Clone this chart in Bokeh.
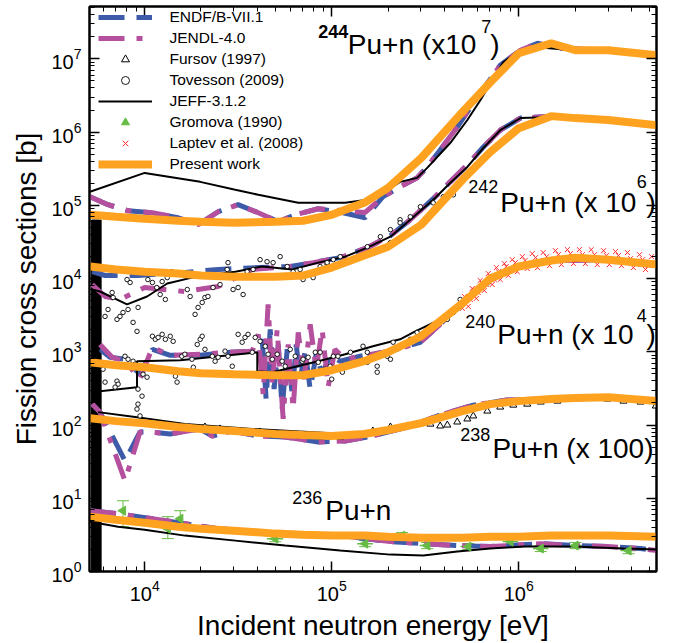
import math
from bokeh.plotting import figure
from bokeh.models import (Range1d, LogAxis, FixedTicker, LogTickFormatter, Label, Legend,
                          LegendItem, Whisker, ColumnDataSource, TeeHead, CustomJSTickFormatter)
from bokeh.embed import file_html
from bokeh.resources import INLINE

# ---------------- data (displayed, already scaled values) ----------------
present_e = [5.11e3, 7.03e3, 1.0e4, 1.51e4, 2.0e4, 3.01e4, 4.99e4, 7.03e4, 1.0e5, 1.49e5, 2.0e5,
             3.01e5, 4.99e5, 7.05e5, 1.0e6, 1.49e6, 2.01e6, 3.01e6, 5.5e6]
pu244_present = [7.43e4, 6.98e4, 6.55e4, 6.15e4, 5.97e4, 5.78e4, 5.97e4, 6.15e4, 7.43e4, 1.08e5, 1.73e5,
                 4.43e5, 1.87e6, 4.79e6, 1.19e7, 1.63e7, 1.31e7, 1.31e7, 1.12e7]
pu242_present = [1.46e4, 1.33e4, 1.24e4, 1.17e4, 1.10e4, 1.06e4, 1.06e4, 1.10e4, 1.41e4, 2.06e4, 2.72e4,
                 5.43e4, 2.22e5, 5.34e5, 1.13e6, 1.65e6, 1.55e6, 1.46e6, 1.24e6]
pu240_present = [719, 655, 615, 543, 510, 494, 479, 479, 560, 743, 985,
                 1.63e3, 4.57e3, 1.0e4, 1.46e4, 1.76e4, 1.93e4, 1.81e4, 1.55e4]
pu238_present = [124, 113, 106, 94, 88, 83, 75.5, 73.1, 70.8, 75.5, 85.5,
                 106, 155, 193, 212, 226, 233, 240, 212]
pu236_present = [5.60, 5.09, 4.64, 4.09, 3.84, 3.61, 3.29, 3.18, 3.09, 3.09, 2.99,
                 2.90, 2.90, 2.99, 2.99, 3.09, 3.09, 3.09, 2.99]

# JEFF-3.1.2
jeff244_e = [5.1e3, 1.0e4, 1.98e4, 3.05e4, 4.05e4, 6.62e4, 1.18e5, 1.55e5, 1.88e5, 2.32e5, 2.86e5,
             3.24e5, 4.30e5, 5.31e5, 6.23e5, 8.26e5, 1.02e6, 1.30e6, 1.96e6, 2.98e6, 5.5e6]
jeff244_s = [1.53e5, 2.77e5, 2.09e5, 1.63e5, 1.39e5, 1.08e5, 1.08e5, 1.19e5, 1.48e5, 2.09e5, 2.37e5,
             3.24e5, 7.08e5, 1.46e6, 2.72e6, 8.96e6, 1.31e7, 1.43e7, 1.31e7, 1.26e7, 1.05e7]
jeff242_e = [5.23e3, 5.77e3, 8.05e3, 1.03e4, 1.32e4, 1.79e4, 3.05e4, 4.25e4, 6.15e4, 8.47e4, 1.18e5,
             1.55e5, 2.06e5, 2.63e5, 3.49e5, 4.30e5, 5.31e5, 6.47e5, 7.96e5, 1.02e6, 1.53e6, 2.98e6, 5.5e6]
jeff242_s = [7.08e3, 6.65e3, 4.43e3, 5.69e3, 8.55e3, 1.03e4, 1.24e4, 1.46e4, 1.33e4, 1.65e4, 1.99e4,
             2.64e4, 3.73e4, 6.35e4, 1.19e5, 2.02e5, 3.34e5, 6.06e5, 1.06e6, 1.55e6, 1.60e6, 1.46e6, 1.24e6]
jeff240_e = [5.77e3, 9.1e3, 9.1e3, 1.55e4, 4.0e4, 4.0e4, 4.81e4, 8.47e4, 1.18e5, 1.66e5, 2.32e5,
             2.73e5, 3.80e5, 4.86e5, 5.85e5, 7.05e5, 1.0e6, 1.49e6, 3.01e6, 5.5e6]
jeff240_s = [290, 329, 743, 766, 985, 543, 526, 743, 925, 1.19e3, 1.48e3,
             1.84e3, 2.77e3, 4.43e3, 6.65e3, 9.69e3, 1.41e4, 1.76e4, 1.81e4, 1.55e4]
jeff238_e = [5.64e3, 8.89e3, 1.64e4, 3.76e4, 1.18e5, 1.66e5, 2.54e5, 3.80e5, 5.71e5, 8.65e5, 1.31e6,
             2.01e6, 3.01e6, 5.5e6]
jeff238_s = [150, 129, 103, 88.3, 75.5, 77.8, 97.0, 133, 182, 212, 226, 226, 233, 199]
jeff236_e = [5.11e3, 7.21e3, 1.0e4, 1.64e4, 3.05e4, 5.64e4, 1.11e5, 2.06e5, 3.09e5, 4.69e5, 7.05e5,
             1.06e6, 1.96e6, 3.63e6, 5.5e6]
jeff236_s = [4.79, 4.09, 3.72, 3.09, 2.64, 2.26, 1.93, 1.70, 1.65, 1.87, 2.06, 2.19, 2.19, 2.06, 1.99]
# resonance band (JEFF, unresolved at this scale)
res_band_e = [5.2e3, 5.85e3]
res_band_s = [1.0, 6.3e4]

# ENDF/B-VII.1
endf244_e = [5.1e3, 6.37e3, 8.15e3, 1.10e4, 1.51e4, 1.93e4, 2.47e4, 3.16e4, 4.05e4, 5.18e4, 6.38e4,
             8.47e4, 1.15e5, 1.51e5, 1.88e5, 2.32e5, 2.86e5, 3.24e5, 3.80e5, 4.69e5, 5.71e5, 7.96e5,
             1.02e6, 1.26e6, 1.67e6, 2.73e6, 5.5e6]
endf244_s = [1.31e5, 1.02e5, 8.42e4, 7.91e4, 6.76e4, 5.43e4, 8.17e4, 1.02e5, 7.91e4, 5.97e4, 7.43e4,
             8.96e4, 7.91e4, 6.76e4, 1.31e5, 1.79e5, 2.37e5, 3.34e5, 5.69e5, 1.17e6, 2.48e6, 8.16e6,
             1.31e7, 1.63e7, 1.39e7, 1.31e7, 1.12e7]
endf242_e = [5.24e3, 6.14e3, 9.21e3, 1.64e4, 2.47e4, 4.05e4, 6.0e4, 7.96e4, 1.11e5, 1.55e5, 2.06e5,
             2.63e5, 3.49e5, 4.30e5, 5.31e5, 6.47e5, 7.96e5, 1.02e6, 1.53e6, 2.98e6, 5.5e6]
endf242_s = [1.24e4, 1.10e4, 1.10e4, 1.21e4, 1.33e4, 1.41e4, 1.46e4, 1.65e4, 1.93e4, 2.64e4, 3.85e4,
             6.35e4, 1.23e5, 2.09e5, 3.56e5, 6.25e5, 1.06e6, 1.55e6, 1.65e6, 1.46e6, 1.24e6]
endf240_e = [5.77e3, 6.53e3, 7.85e3, 9.44e3, 1.10e4, 1.37e4, 1.98e4, 2.86e4, 3.90e4, 4.25e4, 4.46e4,
             4.69e4, 4.92e4, 5.18e4, 5.43e4, 5.78e4, 6.15e4, 6.46e4, 6.78e4, 7.21e4, 7.67e4, 8.26e4,
             8.89e4, 9.81e4, 1.11e5, 1.42e5, 2.06e5, 2.98e5, 3.80e5, 4.86e5, 6.07e5, 7.96e5, 1.0e6,
             1.49e6, 3.01e6, 5.5e6]
endf240_s = [1.08e3, 841, 791, 494, 1.08e3, 896, 896, 985, 1.02e3, 1.48e3, 226,
             2.02e3, 309, 1.26e3, 165, 1.08e3, 264, 1.26e3, 423, 1.02e3, 309, 925,
             494, 896, 743, 869, 1.02e3, 1.35e3, 2.37e3, 4.43e3, 7.08e3, 1.13e4, 1.46e4,
             1.76e4, 1.81e4, 1.55e4]
endf238_e = [5.24e3, 5.77e3, 7.85e3, 9.44e3, 1.07e4, 1.37e4, 1.98e4, 2.30e4, 2.94e4, 4.05e4, 5.64e4,
             8.47e4, 1.18e5, 1.66e5, 2.54e5, 3.80e5, 5.71e5, 8.65e5, 1.31e6, 2.01e6, 3.01e6, 5.5e6]
endf238_s = [193, 150, 32.4, 80.3, 80.3, 75.5, 88.3, 70.8, 82.8, 70.8, 68.7,
             58.7, 60.6, 70.8, 94.0, 137, 187, 219, 226, 233, 240, 212]
endf236_e = [5.11e3, 7.21e3, 1.10e4, 2.47e4, 5.64e4, 1.11e5, 2.06e5, 3.09e5, 4.69e5, 7.05e5, 1.31e6,
             1.96e6, 2.98e6, 4.48e6, 5.5e6]
endf236_s = [6.76, 6.15, 5.26, 3.84, 3.29, 3.09, 2.56, 2.40, 2.26, 2.19, 2.40, 2.26, 2.19, 2.06, 1.93]

# JENDL-4.0
jendl244_e = endf244_e
jendl244_s = [1.31e5, 1.02e5, 8.42e4, 7.91e4, 6.76e4, 5.43e4, 8.17e4, 1.02e5, 7.91e4, 5.97e4, 7.43e4,
              8.96e4, 8.4e4, 8.0e4, 1.31e5, 1.79e5, 2.37e5, 3.34e5, 5.69e5, 1.17e6, 2.48e6, 8.16e6,
              1.31e7, 1.63e7, 1.39e7, 1.31e7, 1.12e7]
jendl242_e = [5.24e3, 6.14e3, 7.38e3, 1.0e4, 1.64e4, 2.47e4, 3.76e4, 6.0e4, 7.96e4, 1.11e5, 1.55e5,
              2.06e5, 2.63e5, 3.49e5, 4.30e5, 5.31e5, 6.47e5, 7.96e5, 1.02e6, 1.53e6, 2.98e6, 5.5e6]
jendl242_s = [8.28e3, 5.69e3, 5.18e3, 7.54e3, 6.65e3, 7.78e3, 1.33e4, 1.46e4, 1.65e4, 1.93e4, 2.64e4,
              3.85e4, 6.35e4, 1.23e5, 2.09e5, 3.56e5, 6.25e5, 1.06e6, 1.55e6, 1.65e6, 1.46e6, 1.24e6]
jendl240_e = [5.77e3, 6.70e3, 7.85e3, 9.44e3, 1.10e4, 1.37e4, 1.98e4, 2.86e4, 3.76e4, 4.05e4, 4.30e4,
              4.57e4, 4.81e4, 5.11e4, 5.50e4, 5.85e4, 6.22e4, 6.62e4, 7.13e4, 7.67e4, 8.26e4, 8.89e4,
              9.57e4, 1.04e5, 1.18e5, 1.42e5, 2.06e5, 2.98e5, 3.80e5, 4.86e5, 6.07e5, 7.96e5, 1.0e6,
              1.49e6, 3.01e6, 5.5e6]
jendl240_s = [1.26e3, 841, 743, 423, 1.15e3, 896, 925, 985, 1.02e3, 1.73e3, 264,
              4.43e3, 361, 2.02e3, 121, 1.26e3, 165, 1.84e3, 423, 2.37e3, 578, 2.02e3,
              329, 1.08e3, 791, 869, 1.02e3, 1.35e3, 2.37e3, 4.43e3, 7.08e3, 1.13e4, 1.46e4,
              1.76e4, 1.81e4, 1.55e4]
jendl238_e = endf238_e
jendl238_s = [193, 150, 17.3, 80.3, 80.3, 75.5, 88.3, 70.8, 82.8, 70.8, 68.7,
              58.7, 60.6, 70.8, 94.0, 137, 187, 219, 226, 233, 240, 212]
jendl236_e = endf236_e
jendl236_s = endf236_s

# Fursov (1997), 238Pu x 100
fursov_e = [2.10e4, 2.53e4, 3.24e4, 4.14e4, 5.30e4, 6.78e4, 8.67e4, 1.11e5, 1.34e5, 1.66e5, 2.06e5,
            2.54e5, 2.86e5, 3.37e5, 3.80e5, 4.15e5, 4.69e5, 5.31e5, 5.71e5, 6.79e5, 7.96e5, 9.35e5,
            1.11e6, 1.31e6, 1.61e6, 1.96e6, 2.42e6, 2.98e6, 3.63e6, 4.48e6, 5.4e6]
fursov_s = [94.0, 88.3, 82.8, 80.3, 73.1, 70.8, 68.7, 68.7, 73.1, 82.8, 94.0,
            97.0, 103, 103, 97.0, 100, 110, 121, 133, 155, 176, 187,
            193, 206, 212, 226, 233, 226, 212, 206, 182]

# Tovesson (2009), 242Pu x 1e6 and 240Pu x 1e4
tov242_e = [6.14e3, 6.37e3, 6.70e3, 6.78e3, 7.11e3, 7.38e3, 7.66e3, 8.15e3, 8.67e3, 9.10e3, 9.22e3,
            8.36e3, 8.05e3, 1.04e4, 1.10e4, 1.16e4, 1.24e4, 1.32e4, 1.40e4, 1.21e4, 1.29e4, 1.69e4,
            1.75e4, 1.86e4, 1.93e4, 2.03e4, 2.10e4, 2.18e4, 2.32e4, 2.53e4, 2.76e4, 2.79e4, 2.97e4,
            3.16e4, 3.36e4, 3.53e4, 3.80e4, 4.14e4, 4.51e4, 4.86e4, 5.30e4, 5.78e4, 6.22e4, 6.78e4,
            7.96e4, 8.67e4, 9.45e4, 1.02e5, 1.42e5, 1.55e5, 1.75e5, 1.82e5, 2.06e5, 2.06e5, 2.32e5,
            2.32e5, 2.63e5, 2.63e5, 2.98e5, 3.49e5, 3.95e5, 4.47e5, 7.03e4, 9.45e4, 1.11e5, 1.26e5]
tov242_s = [3.04e3, 3.78e3, 6.45e3, 5.51e3, 2.77e3, 3.04e3, 3.44e3, 3.78e3, 2.52e3, 1.90e3, 4.03e3,
            8.83e3, 9.69e3, 9.69e3, 8.83e3, 7.54e3, 9.10e3, 1.03e4, 1.24e4, 6.05e3, 5.18e3, 7.08e3,
            5.69e3, 3.24e3, 4.03e3, 4.71e3, 5.51e3, 5.69e3, 7.54e3, 8.28e3, 1.33e4, 1.65e4, 7.08e3,
            7.54e3, 6.05e3, 1.24e4, 1.33e4, 1.81e4, 1.70e4, 1.65e4, 1.99e4, 1.46e4, 1.24e4, 1.33e4,
            1.03e4, 1.46e4, 1.55e4, 1.81e4, 1.99e4, 2.72e4, 2.48e4, 3.73e4, 4.65e4, 3.09e4, 6.35e4,
            5.78e4, 6.98e4, 4.23e4, 9.55e4, 1.08e5, 1.31e5, 1.39e5, 9.69e3, 1.65e4, 1.99e4, 1.70e4]
tov240_e = [5.99e3, 6.14e3, 7.11e3, 7.21e3, 6.95e3, 7.85e3, 8.15e3, 8.67e3, 8.89e3, 9.21e3,
            9.68e3, 9.21e3, 9.10e3, 9.44e3, 9.80e3, 1.03e4, 1.10e4, 1.14e4, 1.18e4, 1.24e4,
            1.29e4, 1.37e4, 1.42e4, 1.46e4, 1.49e4, 1.58e4, 1.64e4, 1.79e4, 1.82e4, 1.91e4,
            1.98e4, 2.03e4, 2.10e4, 2.30e4, 2.38e4, 2.47e4, 2.69e4, 2.79e4, 2.94e4, 3.16e4,
            3.32e4, 3.44e4, 3.57e4, 3.76e4, 3.90e4, 4.14e4, 4.41e4, 4.57e4, 4.81e4, 5.11e4,
            5.43e4, 5.64e4, 6.00e4, 6.38e4, 6.95e4, 7.48e4, 8.17e4, 8.47e4, 9.23e4, 9.81e4,
            1.08e5, 1.00e5, 1.14e5, 7.03e4, 8.67e4, 1.02e5, 1.26e5, 1.47e5, 1.55e5, 1.75e5,
            1.98e5, 2.06e5, 2.13e5, 2.32e5, 2.63e5, 2.86e5, 3.24e5, 3.49e5, 3.80e5, 4.15e5,
            4.47e5, 4.69e5, 4.86e5, 1.75e5, 1.55e5]
tov240_s = [578, 385, 397, 361, 329, 869, 791, 743, 676, 309,
            248, 193, 165, 133, 494, 450, 1.63e3, 1.48e3, 1.57e3, 1.73e3,
            1.48e3, 1.63e3, 1.39e3, 464, 385, 869, 925, 791, 615, 1.26e3,
            1.48e3, 1.63e3, 1.08e3, 869, 743, 841, 1.02e3, 869, 635, 1.73e3,
            1.35e3, 1.57e3, 1.73e3, 985, 1.57e3, 1.39e3, 1.19e3, 925, 791, 925,
            743, 635, 1.08e3, 869, 743, 841, 985, 719, 578, 635,
            869, 423, 526, 791, 985, 869, 985, 1.19e3, 985, 635,
            869, 791, 1.35e3, 1.19e3, 1.48e3, 1.84e3, 2.02e3, 2.22e3, 2.52e3, 2.77e3,
            3.44e3, 4.16e3, 5.18e3, 526, 719]

# Gromova (1990), 236Pu
grom_e = [7.66e3, 1.33e4, 1.55e4, 4.99e4, 1.51e5, 2.38e5, 3.24e5, 5.37e5, 9.02e5, 1.31e6, 2.01e6, 3.86e6]
grom_s = [6.76, 3.84, 5.26, 2.81, 2.40, 3.09, 2.26, 2.19, 2.56, 2.06, 2.26, 1.93]
grom_s_lo = [4.09, 2.81, 3.84, 2.55, 2.18, 2.80, 2.05, 1.99, 2.33, 1.87, 2.05, 1.75]
grom_s_hi = [9.25, 5.60, 6.76, 3.10, 2.64, 3.40, 2.49, 2.41, 2.82, 2.27, 2.49, 2.12]
grom_e_lo = [7.66e3, 1.33e4, 1.55e4, 4.5e4, 1.37e5, 2.16e5, 2.95e5, 4.88e5, 8.2e5, 1.19e6, 1.83e6, 3.5e6]
grom_e_hi = [7.66e3, 1.33e4, 1.55e4, 5.5e4, 1.66e5, 2.62e5, 3.56e5, 5.9e5, 9.9e5, 1.44e6, 2.21e6, 4.25e6]

# Laptev et al. (2008), 240Pu x 1e4
lap_e = [4.99e5, 5.25e5, 5.51e5, 5.79e5, 6.07e5, 6.38e5, 6.70e5, 7.05e5, 7.40e5, 7.78e5, 8.17e5, 8.58e5,
         9.02e5, 9.59e5, 1.02e6, 1.08e6, 1.15e6, 1.23e6, 1.31e6, 1.41e6, 1.51e6, 1.63e6, 1.75e6, 1.89e6,
         2.03e6, 2.19e6, 2.36e6, 2.54e6, 2.73e6, 2.94e6, 3.17e6, 3.41e6, 3.67e6, 3.96e6, 4.26e6, 4.59e6,
         4.94e6, 5.32e6,
         5.12e5, 5.37e5, 5.64e5, 5.93e5, 6.22e5, 6.54e5, 6.87e5, 7.21e5, 7.59e5, 7.96e5, 8.37e5, 8.79e5,
         9.23e5, 9.82e5, 1.045e6, 1.11e6, 1.18e6, 1.26e6, 1.35e6, 1.46e6, 1.57e6, 1.69e6, 1.82e6, 1.96e6,
         2.11e6, 2.27e6, 2.44e6, 2.63e6, 2.84e6, 3.05e6, 3.29e6, 3.54e6, 3.81e6, 4.10e6, 4.42e6, 4.76e6,
         5.13e6]
lap_s = [3.91e3, 5.35e3, 5.18e3, 6.87e3, 6.45e3, 8.55e3, 8.28e3, 1.06e4, 9.69e3, 1.24e4, 1.13e4, 1.46e4,
         1.33e4, 1.65e4, 1.41e4, 1.76e4, 1.55e4, 1.93e4, 1.65e4, 1.99e4, 1.70e4, 2.12e4, 1.81e4, 2.19e4,
         1.81e4, 2.12e4, 1.81e4, 2.12e4, 1.76e4, 2.06e4, 1.70e4, 2.06e4, 1.65e4, 1.87e4, 1.55e4, 1.81e4,
         1.50e4, 1.65e4,
         5.69e3, 4.16e3, 7.31e3, 5.35e3, 9.40e3, 6.87e3, 1.17e4, 8.28e3, 1.41e4, 9.69e3, 1.60e4, 1.10e4,
         1.81e4, 1.24e4, 1.99e4, 1.37e4, 2.19e4, 1.41e4, 2.26e4, 1.50e4, 2.40e4, 1.55e4, 2.48e4, 1.60e4,
         2.48e4, 1.60e4, 2.48e4, 1.55e4, 2.40e4, 1.55e4, 2.33e4, 1.50e4, 2.26e4, 1.41e4, 2.12e4, 1.33e4,
         1.99e4]

x_major = [1e4, 1e5, 1e6]
y_major = [1, 10, 100, 1e3, 1e4, 1e5, 1e6, 1e7]

# ---------------- styles ----------------
BLUE = "#3d5ba8"
MAG = "#b4509e"
ORANGE = "#ffa21f"
GREEN = "#66bb44"
RED = "#ff2a2a"
FONT = "Liberation Sans"

p = figure(width=676, height=643, x_axis_type="log", y_axis_type="log",
           x_range=Range1d(5.07e3, 5.45e6), y_range=Range1d(1.0, 5.18e7),
           output_backend="svg", toolbar_location=None,
           min_border_left=89, min_border_right=20, min_border_top=6, min_border_bottom=70)
p.grid.visible = False
p.outline_line_color = "black"
p.outline_line_width = 2
p.background_fill_color = "white"
p.border_fill_color = "white"

x_minor = [k * 10 ** d for d in range(3, 7) for k in range(2, 10)]
y_minor = [k * 10 ** d for d in range(0, 8) for k in range(2, 10)]


def style_axis(ax):
    ax.axis_line_color = "black"
    ax.axis_line_width = 2
    ax.major_tick_in = 10
    ax.major_tick_out = 0
    ax.minor_tick_in = 5
    ax.minor_tick_out = 0
    ax.major_tick_line_width = 1.5
    ax.minor_tick_line_width = 1
    ax.major_tick_line_color = "black"
    ax.minor_tick_line_color = "black"
    ax.major_label_text_font = FONT
    ax.major_label_text_color = "black"
    ax.major_label_text_font_size = "20px"
    ax.major_label_standoff = 8


xa = p.xaxis[0]
ya = p.yaxis[0]
xa.ticker = FixedTicker(ticks=x_major, minor_ticks=x_minor)
ya.ticker = FixedTicker(ticks=y_major, minor_ticks=y_minor)
xa.formatter = LogTickFormatter()
ya.formatter = LogTickFormatter()
style_axis(xa)
style_axis(ya)
xa.axis_label = "Incident neutron energy [eV]"
ya.axis_label = "Fission cross sections [b]"
for ax in (xa, ya):
    ax.axis_label_text_font = FONT
    ax.axis_label_text_font_size = "28px"
    ax.axis_label_text_font_style = "normal"
    ax.axis_label_text_color = "black"
    ax.axis_label_standoff = 6

blank = CustomJSTickFormatter(code="return '';")
top = LogAxis(ticker=FixedTicker(ticks=x_major, minor_ticks=x_minor), formatter=blank)
style_axis(top)
top.major_label_standoff = 0
p.add_layout(top, "above")
right = LogAxis(ticker=FixedTicker(ticks=y_major, minor_ticks=y_minor), formatter=blank)
style_axis(right)
right.major_label_standoff = 0
p.add_layout(right, "right")

# resonance band
p.quad(left=[res_band_e[0]], right=[res_band_e[1]], bottom=[res_band_s[0]], top=[res_band_s[1]],
       fill_color="black", line_color="black")

endf_r = []
for e, s in [(endf244_e, endf244_s), (endf242_e, endf242_s), (endf240_e, endf240_s),
             (endf238_e, endf238_s), (endf236_e, endf236_s)]:
    endf_r.append(p.line(e, s, line_color=BLUE, line_width=5, line_dash="26 12"))
jendl_r = []
for e, s in [(jendl244_e, jendl244_s), (jendl242_e, jendl242_s), (jendl240_e, jendl240_s),
             (jendl238_e, jendl238_s), (jendl236_e, jendl236_s)]:
    jendl_r.append(p.line(e, s, line_color=MAG, line_width=5, line_dash="26 12 6 12"))
jeff_r = []
for e, s in [(jeff244_e, jeff244_s), (jeff242_e, jeff242_s), (jeff240_e, jeff240_s),
             (jeff238_e, jeff238_s), (jeff236_e, jeff236_s)]:
    jeff_r.append(p.line(e, s, line_color="black", line_width=2))

lap_r = p.scatter(lap_e, lap_s, marker="x", size=7, line_color=RED, line_width=1)
tov_r = p.scatter(tov242_e + tov240_e, tov242_s + tov240_s, marker="circle", size=4.5,
                  line_color="black", fill_color="white", line_width=0.9)
fur_r = p.scatter(fursov_e, fursov_s, marker="triangle", size=7, line_color="black",
                  fill_color="white", line_width=1)

gsrc = ColumnDataSource(dict(e=grom_e, s=grom_s, lo=grom_s_lo, hi=grom_s_hi, elo=grom_e_lo, ehi=grom_e_hi))
p.add_layout(Whisker(source=gsrc, base="e", lower="lo", upper="hi", line_color=GREEN, line_width=1,
                     upper_head=TeeHead(size=12, line_color=GREEN, line_width=1),
                     lower_head=TeeHead(size=12, line_color=GREEN, line_width=1)))
p.add_layout(Whisker(source=gsrc, base="s", lower="elo", upper="ehi", dimension="width",
                     line_color=GREEN, line_width=1.5,
                     upper_head=None, lower_head=None))
grom_r = p.scatter("e", "s", source=gsrc, marker="triangle", angle=math.pi / 2, size=9,
                   line_color=GREEN, fill_color=GREEN)

pres_r = []
for s in [pu244_present, pu242_present, pu240_present, pu238_present, pu236_present]:
    pres_r.append(p.line(present_e, s, line_color=ORANGE, line_width=8))

legend = Legend(items=[
    LegendItem(label="ENDF/B-VII.1", renderers=[endf_r[0]]),
    LegendItem(label="JENDL-4.0", renderers=[jendl_r[0]]),
    LegendItem(label="Fursov (1997)", renderers=[fur_r]),
    LegendItem(label="Tovesson (2009)", renderers=[tov_r]),
    LegendItem(label="JEFF-3.1.2", renderers=[jeff_r[0]]),
    LegendItem(label="Gromova (1990)", renderers=[grom_r]),
    LegendItem(label="Laptev et al. (2008)", renderers=[lap_r]),
    LegendItem(label="Present work", renderers=[pres_r[0]]),
], location=(8.5, 397))
legend.padding = 0
legend.spacing = 1
legend.margin = 0
legend.glyph_height = 20
legend.glyph_width = 54
legend.label_standoff = 18
legend.label_text_font = FONT
legend.label_text_font_size = "15.5px"
legend.label_text_color = "black"
legend.border_line_color = None
legend.background_fill_alpha = 0
p.add_layout(legend)

# isotope labels (data coordinates)
labels = [
    (8.47e4, 2.37e7, "244", "18px", "bold"), (1.22e5, 1.57e7, "Pu+n (x10", "28px", "normal"),
    (6.31e5, 2.78e7, "7", "18px", "normal"), (7.05e5, 1.57e7, ")", "28px", "normal"),
    (5.37e5, 1.79e5, "242", "18px", "normal"), (7.96e5, 1.08e5, "Pu+n (x 10", "28px", "normal"),
    (4.27e6, 2.09e5, "6", "18px", "normal"), (4.82e6, 1.08e5, ")", "28px", "normal"),
    (5.17e5, 2.60e3, "240", "18px", "normal"), (7.68e5, 1.72e3, "Pu+n (x 10", "28px", "normal"),
    (4.27e6, 3.14e3, "4", "18px", "normal"), (4.82e6, 1.72e3, ")", "28px", "normal"),
    (4.86e5, 73.1, "238", "18px", "normal"), (7.23e5, 47.2, "Pu+n (x 100)", "28px", "normal"),
    (6.15e4, 10.15, "236", "18px", "normal"), (9.23e4, 6.77, "Pu+n", "28px", "normal"),
]
for x, y, t, fs, st in labels:
    p.add_layout(Label(x=x, y=y, text=t, text_font=FONT, text_font_size=fs, text_font_style=st,
                       text_color="black", text_baseline="alphabetic", text_align="left"))

open("out.html", "w").write(file_html(p, INLINE))
